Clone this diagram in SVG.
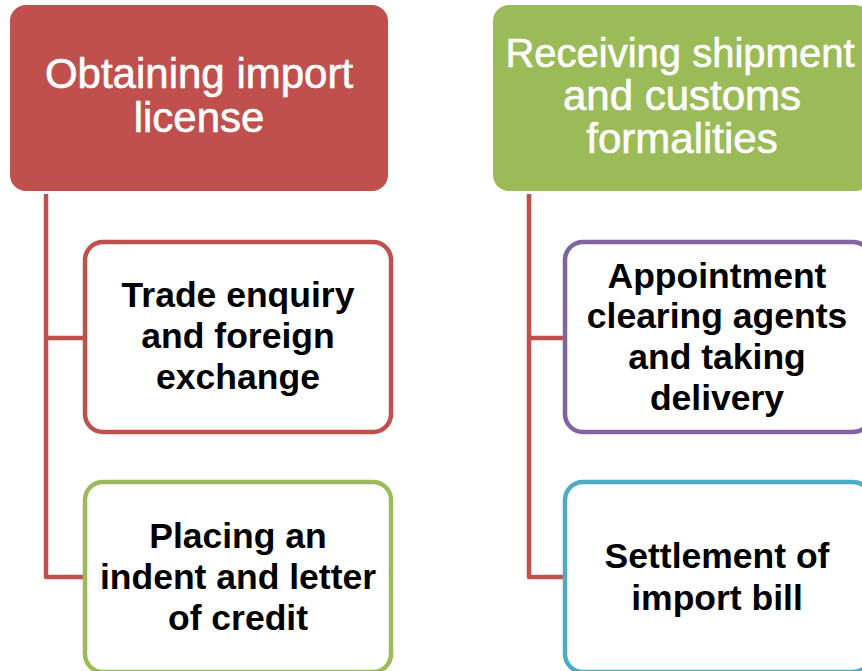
<svg xmlns="http://www.w3.org/2000/svg" width="862" height="671" viewBox="0 0 862 671">
<style>
.hdr{font-family:"Liberation Sans",Arial,sans-serif;font-size:42px;fill:#ffffff;stroke:#ffffff;stroke-width:0.6;text-anchor:middle}
.lbl{font-family:"Liberation Sans",Arial,sans-serif;font-size:35.5px;font-weight:bold;fill:#000000;text-anchor:middle}
.child{fill:#ffffff;stroke-width:4.5}
.conn{fill:none;stroke:#C0504D;stroke-width:4.5;stroke-linejoin:round}
</style>
<rect width="862" height="671" fill="#ffffff"/>
<g id="connectors">
<path class="conn" d="M46 194 V577 H85 M46 338 H85"/>
<path class="conn" d="M529 194 V577 H565 M529 338 H565"/>
</g>
<g id="h1">
<rect x="10" y="5" width="378" height="186" rx="16" fill="#C0504D"/>
<text class="hdr" x="199" y="88">Obtaining import</text>
<text class="hdr" x="199" y="132">license</text>
</g>
<g id="h2">
<rect x="493" y="5" width="378" height="186" rx="16" fill="#9BBB59"/>
<text class="hdr" x="680" y="67" style="font-size:40px">Receiving shipment</text>
<text class="hdr" x="682" y="110">and customs</text>
<text class="hdr" x="682" y="153">formalities</text>
</g>
<g id="c1">
<rect class="child" x="85" y="242" width="306" height="190" rx="18" stroke="#C0504D"/>
<text class="lbl" x="238" y="307">Trade enquiry</text>
<text class="lbl" x="238" y="348">and foreign</text>
<text class="lbl" x="238" y="389">exchange</text>
</g>
<g id="c2">
<rect class="child" x="85" y="482" width="306" height="190" rx="18" stroke="#9BBB59"/>
<text class="lbl" x="238" y="548">Placing an</text>
<text class="lbl" x="238" y="589">indent and letter</text>
<text class="lbl" x="238" y="630">of credit</text>
</g>
<g id="c3">
<rect class="child" x="565" y="242" width="306" height="190" rx="18" stroke="#8064A2"/>
<text class="lbl" x="717" y="288">Appointment</text>
<text class="lbl" x="717" y="328">clearing agents</text>
<text class="lbl" x="717" y="369">and taking</text>
<text class="lbl" x="717" y="410">delivery</text>
</g>
<g id="c4">
<rect class="child" x="565" y="482" width="306" height="190" rx="18" stroke="#4BACC6"/>
<text class="lbl" x="717" y="568">Settlement of</text>
<text class="lbl" x="717" y="610">import bill</text>
</g>
</svg>
